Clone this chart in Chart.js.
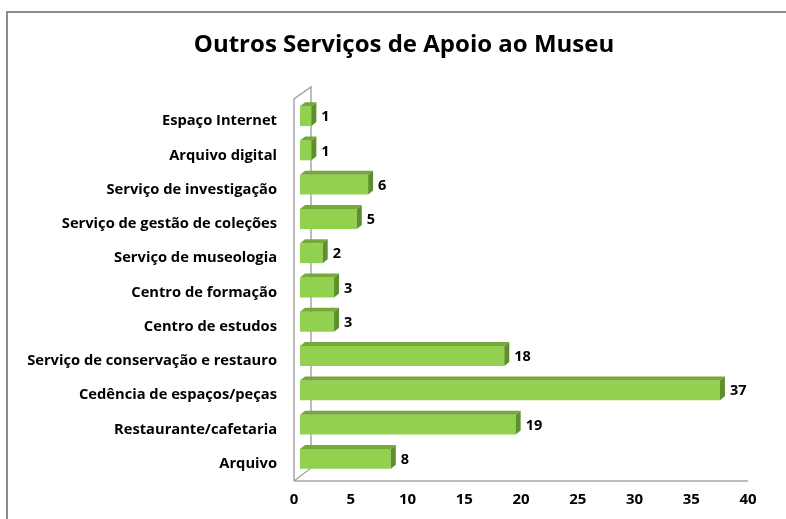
<!DOCTYPE html>
<html>
<head>
<meta charset="utf-8">
<script src="https://cdn.jsdelivr.net/npm/chart.js@4"></script>
<style>
  html, body { margin: 0; padding: 0; background: #fff; }
  #wrap { width: 786px; height: 519px; }
</style>
</head>
<body>
<div id="wrap"><canvas id="chart" width="786" height="519"></canvas></div>
<script>
const chartTitle = "Outros Serviços de Apoio ao Museu";
const categories = [
  "Espaço Internet",
  "Arquivo digital",
  "Serviço de investigação",
  "Serviço de gestão de coleções",
  "Serviço de museologia",
  "Centro de formação",
  "Centro de estudos",
  "Serviço de conservação e restauro",
  "Cedência de espaços/peças",
  "Restaurante/cafetaria",
  "Arquivo"
];
const values = [1, 1, 6, 5, 2, 3, 3, 18, 37, 19, 8];
const xTicks = [0, 5, 10, 15, 20, 25, 30, 35, 40];

const FONT = "'Open Sans', Lato, 'DejaVu Sans', sans-serif";

// --- 3D look: top + side faces, frame, title, value labels ---
const bars3d = {
  id: "bars3d",
  beforeDraw(chart) {
    const ctx = chart.ctx;
    ctx.save();
    ctx.strokeStyle = "#8c8c8c";
    ctx.lineWidth = 2;
    ctx.strokeRect(7, 12, 800, 600);
    // title (centred like the original, a bit right of the canvas centre)
    ctx.fillStyle = "#000";
    ctx.font = "bold 24px " + FONT;
    ctx.textAlign = "center";
    ctx.textBaseline = "middle";
    ctx.fillText(chartTitle, 404, 45);
    // walls / floor
    const a = chart.chartArea;
    const L = a.left - 6, B = a.left + 11;
    ctx.strokeStyle = "#a6a6a6";
    ctx.lineWidth = 1.5;
    ctx.beginPath();
    ctx.moveTo(L, a.bottom + 5);
    ctx.lineTo(L, a.top + 0);
    ctx.lineTo(B, a.top - 12);
    ctx.lineTo(B, a.bottom - 8);
    ctx.lineTo(L, a.bottom + 5);
    ctx.moveTo(L, a.bottom + 5);
    ctx.lineTo(a.right - 6, a.bottom + 5);
    ctx.stroke();
    ctx.restore();
  },
  afterDatasetsDraw(chart) {
    const ctx = chart.ctx;
    const dx = 5, dy = 4;
    const meta = chart.getDatasetMeta(0);
    ctx.save();
    meta.data.forEach((bar, i) => {
      const p = bar.getProps(["x", "y", "base", "height"], true);
      const t = p.y - p.height / 2, b = p.y + p.height / 2;
      // top face
      ctx.fillStyle = "#77a83a";
      ctx.beginPath();
      ctx.moveTo(p.base, t);
      ctx.lineTo(p.x, t);
      ctx.lineTo(p.x + dx, t - dy);
      ctx.lineTo(p.base + dx, t - dy);
      ctx.closePath();
      ctx.fill();
      // side face
      ctx.fillStyle = "#5f8f2c";
      ctx.beginPath();
      ctx.moveTo(p.x, t);
      ctx.lineTo(p.x + dx, t - dy);
      ctx.lineTo(p.x + dx, b - dy);
      ctx.lineTo(p.x, b);
      ctx.closePath();
      ctx.fill();
      // value label
      ctx.fillStyle = "#000";
      ctx.font = "bold 14.5px " + FONT;
      ctx.textAlign = "left";
      ctx.textBaseline = "middle";
      ctx.fillText(String(values[i]), p.x + dx + 5, p.y + 1);
    });
    ctx.restore();
  }
};

new Chart(document.getElementById("chart"), {
  type: "bar",
  data: {
    labels: categories,
    datasets: [{
      data: values,
      backgroundColor: "#92d050",
      borderWidth: 0,
      barPercentage: 0.58,
      categoryPercentage: 1
    }]
  },
  options: {
    indexAxis: "y",
    responsive: false,
    animation: false,
    events: [],
    layout: { padding: { left: 20, right: 32, top: 99, bottom: 0 } },
    plugins: {
      legend: { display: false },
      tooltip: { enabled: false },
      title: { display: false }
    },
    scales: {
      x: {
        min: 0,
        max: 40,
        afterBuildTicks(scale) { scale.ticks = xTicks.map(v => ({ value: v })); },
        afterFit(scale) { scale.height = 43; },
        grid: { display: false, drawTicks: false },
        border: { display: false },
        ticks: {
          color: "#000",
          padding: 15,
          labelOffset: -6,
          maxRotation: 0,
          font: { family: FONT, size: 15, weight: "bold" }
        }
      },
      y: {
        afterFit(scale) { scale.width = 280; },
        grid: { display: false, drawTicks: false },
        border: { display: false },
        ticks: {
          color: "#000",
          padding: 23,
          labelOffset: 5,
          autoSkip: false,
          font: { family: FONT, size: 14.7, weight: "bold" }
        }
      }
    }
  },
  plugins: [bars3d]
});
</script>
</body>
</html>
